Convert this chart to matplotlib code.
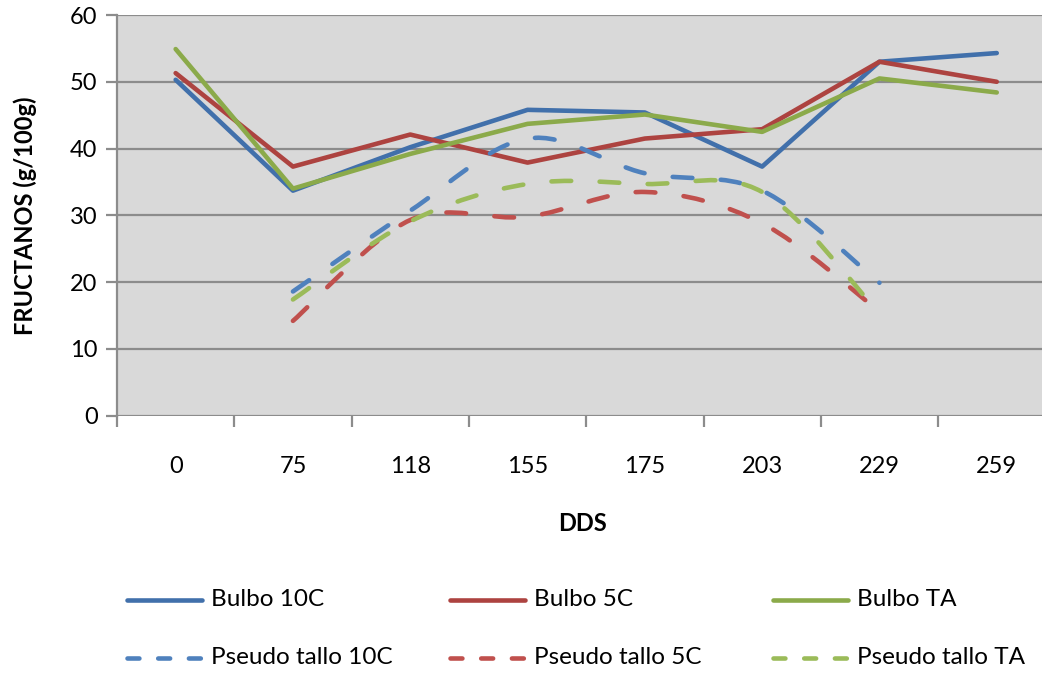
import matplotlib
matplotlib.use("Agg")
import matplotlib.pyplot as plt
from matplotlib.path import Path
from matplotlib.patches import PathPatch
from matplotlib.lines import Line2D
import numpy as np

plt.rcParams['font.family'] = ['Lato', 'DejaVu Sans']

# Days after sowing (category labels)
dds = ["0", "75", "118", "155", "175", "203", "229", "259"]

# Fructan content, g/100g
bulbo_10c = [50.3, 33.7, 40.2, 45.8, 45.4, 37.3, 53.0, 54.3]
bulbo_5c = [51.3, 37.3, 42.1, 37.9, 41.5, 42.9, 53.0, 50.0]
bulbo_ta = [54.9, 34.0, 39.2, 43.7, 45.1, 42.5, 50.5, 48.4]

# Pseudo-stem series start at 75 DDS and end at 229 DDS
pseudo_idx = [1, 2, 3, 4, 5, 6]
pseudo_10c = [18.6, 30.7, 41.5, 36.3, 33.7, 19.9]
pseudo_5c = [14.2, 29.3, 29.8, 33.5, 28.8, 15.6]
pseudo_ta = [17.4, 29.1, 34.7, 34.7, 33.5, 15.3]

solid_colors = ["#4170AB", "#AD4340", "#8BAA4A"]
dash_colors = ["#4F81BD", "#C0504D", "#9BBB59"]

W, H = 1042, 676
fig = plt.figure(figsize=(W / 100, H / 100), dpi=100)
fig.patch.set_facecolor("white")

# axes run past the right edge of the canvas
ax = fig.add_axes([117 / W, 1 - 415.7 / H, 938.4 / W, 400.7 / H])
ax.set_facecolor("#D9D9D9")
ax.set_xlim(-0.5, 7.5)
ax.set_ylim(0, 60)

LW = 3.3
grid_c = "#8C8C8C"
for v in range(0, 61, 10):
    ax.axhline(v, color=grid_c, lw=1.6, zorder=1)

for s in ["top", "right", "bottom"]:
    ax.spines[s].set_visible(False)
ax.spines["left"].set_color(grid_c)
ax.spines["left"].set_linewidth(1.6)

ax.set_yticks(range(0, 61, 10))
ax.tick_params(axis="y", length=8, width=1.6, color=grid_c, labelsize=17, pad=6)
ax.set_xticks(range(len(dds)))
ax.set_xticklabels(dds)
ax.set_xticks(np.arange(-0.5, 7.6, 1.0), minor=True)
ax.tick_params(axis="x", which="major", length=0, labelsize=17, pad=29)
ax.tick_params(axis="x", which="minor", length=8, width=1.6, color=grid_c)
ax.set_ylabel("FRUCTANOS (g/100g)", fontsize=17, fontweight="bold", labelpad=24)
ax.set_xlabel("DDS", fontsize=17, fontweight="bold")
ax.xaxis.set_label_coords((583 - 117) / 938.4, -(512 - 415.7) / 400.7)


def smooth_path(xs, ys):
    pts = np.column_stack([xs, ys]).astype(float)
    n = len(pts)
    verts = [pts[0]]
    codes = [Path.MOVETO]
    for i in range(n - 1):
        p0 = pts[i - 1] if i > 0 else pts[i]
        p1 = pts[i]
        p2 = pts[i + 1]
        p3 = pts[i + 2] if i + 2 < n else pts[i + 1]
        c1 = p1 + (p2 - p0) / 6.0
        c2 = p2 - (p3 - p1) / 6.0
        verts += [c1, c2, p2]
        codes += [Path.CURVE4] * 3
    return Path(verts, codes)


x_all = np.arange(len(dds))
for ys, c in zip([bulbo_10c, bulbo_5c, bulbo_ta], solid_colors):
    ax.plot(x_all, ys, color=c, lw=LW, solid_joinstyle="round",
            solid_capstyle="round", zorder=3)

for ys, c in zip([pseudo_10c, pseudo_5c, pseudo_ta], dash_colors):
    patch = PathPatch(smooth_path(pseudo_idx, ys), fill=False, edgecolor=c,
                      lw=LW, linestyle=(0, (4.3, 6.2)), capstyle="round",
                      joinstyle="round", zorder=3)
    ax.add_patch(patch)

# legend drawn in figure pixels
labels_solid = ["Bulbo 10C", "Bulbo 5C", "Bulbo TA"]
labels_dash = ["Pseudo tallo 10C", "Pseudo tallo 5C", "Pseudo tallo TA"]
col_x = [127, 450, 773]
for i in range(3):
    x0 = col_x[i]
    for row_y, lab, c, ls in [
        (600, labels_solid[i], solid_colors[i], "-"),
        (658, labels_dash[i], dash_colors[i], (0, (2.6, 4.1))),
    ]:
        yy = 1 - row_y / H
        fig.add_artist(Line2D([x0 / W, (x0 + 75) / W], [yy, yy], color=c,
                              lw=LW, linestyle=ls, solid_capstyle="round",
                              dash_capstyle="round", transform=fig.transFigure))
        fig.text((x0 + 84) / W, yy, lab, fontsize=17.5, va="center", ha="left")

fig.savefig("out.png", dpi=100)
